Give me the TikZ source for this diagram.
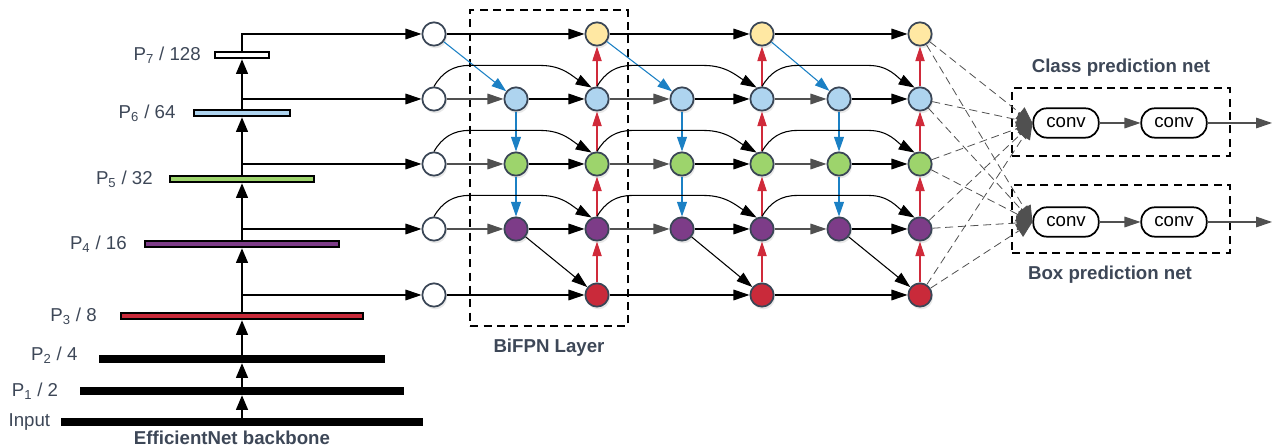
\documentclass[tikz,border=0pt]{standalone}
\usepackage{fontspec}
\setmainfont{Liberation Sans}
\usepackage{tikz}
\usetikzlibrary{arrows.meta, positioning, shadows}

\definecolor{labelgray}{HTML}{3D4757}
\definecolor{nodeborder}{HTML}{3A4656}
\definecolor{p7yellow}{HTML}{FFE8A3}
\definecolor{p6blue}{HTML}{AED4EF}
\definecolor{p5green}{HTML}{9DD46C}
\definecolor{p4purple}{HTML}{7D3C88}
\definecolor{p3red}{HTML}{C92A3A}
\definecolor{tdblue}{HTML}{1B80C4}
\definecolor{upred}{HTML}{D02A3A}
\definecolor{edgegray}{HTML}{505050}

\tikzstyle{plabel} = [text=labelgray, font=\fontsize{14}{16}\selectfont, inner sep=0pt]
\tikzstyle{title} = [text=labelgray, font=\fontsize{14}{16}\selectfont\bfseries, inner sep=0pt]
\tikzstyle{fmap} = [rectangle, draw=black, line width=1.5pt, minimum height=5pt, inner sep=0pt]
\tikzstyle{solidmap} = [rectangle, fill=black, minimum height=6pt, inner sep=0pt]
\tikzstyle{fnode} = [circle, draw=nodeborder, line width=1.3pt, minimum size=17.5pt, inner sep=0pt, fill=white, drop shadow={opacity=0.18, shadow xshift=1pt, shadow yshift=-2pt}]
\tikzstyle{conv} = [rectangle, rounded corners=10pt, draw=black, line width=1.3pt, minimum width=49pt, minimum height=22pt, font=\fontsize{14}{16}\selectfont]
\tikzstyle{dashbox} = [rectangle, draw=black, line width=1.4pt, dash pattern=on 6pt off 4pt]
\tikzstyle{arrow} = [->, >={Triangle[length=12pt,width=8pt]}, line width=0.8pt]
\tikzstyle{uparrow} = [->, >={Triangle[length=11pt,width=9pt]}, line width=1pt]
\tikzstyle{grayarrow} = [arrow, draw=edgegray]
\tikzstyle{bluearrow} = [->, >={Triangle[length=11pt,width=7.5pt]}, line width=0.8pt, draw=tdblue]
\tikzstyle{redarrow} = [->, >={Triangle[length=11pt,width=7pt]}, line width=0.8pt, draw=upred]
\tikzstyle{predline} = [->, >={Triangle[length=12pt,width=11pt]}, line width=0.6pt, draw=edgegray, dash pattern=on 6pt off 3.5pt]

\begin{document}
\begin{tikzpicture}[x=0.75pt, y=0.75pt]
        \useasboundingbox (0,0) rectangle (1277,448);

        % Backbone feature maps
        \node (p7_bar) [fmap, fill=white, minimum width=40pt] at (242,393) {};
        \node (p6_bar) [fmap, fill=p6blue, minimum width=72pt] at (242,335) {};
        \node (p5_bar) [fmap, fill=p5green, minimum width=108pt] at (242,269) {};
        \node (p4_bar) [fmap, fill=p4purple, minimum width=145pt] at (242,204) {};
        \node (p3_bar) [fmap, fill=p3red, minimum width=182pt] at (242,132) {};
        \node (p2_bar) [solidmap, minimum width=214pt] at (242,89) {};
        \node (p1_bar) [solidmap, minimum width=243pt] at (242,57) {};
        \node (in_bar) [solidmap, minimum width=271pt] at (242,26) {};

        \node (p7_label) [plabel, left=10pt of p7_bar] {P\textsubscript{7} / 128};
        \node (p6_label) [plabel, left=13pt of p6_bar] {P\textsubscript{6} / 64};
        \node (p5_label) [plabel, left=12pt of p5_bar] {P\textsubscript{5} / 32};
        \node (p4_label) [plabel, left=13pt of p4_bar] {P\textsubscript{4} / 16};
        \node (p3_label) [plabel, left=17pt of p3_bar] {P\textsubscript{3} / 8};
        \node (p2_label) [plabel, left=16pt of p2_bar, yshift=3pt] {P\textsubscript{2} / 4};
        \node (p1_label) [plabel, left=16pt of p1_bar] {P\textsubscript{1} / 2};
        \node (in_label) [plabel, left=8pt of in_bar] {Input};
        \node (backbone_title) [title] at (232,10) {EfficientNet backbone};

        % Backbone connections
        \draw [uparrow] (in_bar.north) -- (p1_bar.south);
        \draw [uparrow] (p1_bar.north) -- (p2_bar.south);
        \draw [uparrow] (p2_bar.north) -- (p3_bar.south);
        \draw [uparrow] (p3_bar.north) -- (p4_bar.south);
        \draw [uparrow] (p4_bar.north) -- (p5_bar.south);
        \draw [uparrow] (p5_bar.north) -- (p6_bar.south);
        \draw [uparrow] (p6_bar.north) -- (p7_bar.south);

        % BiFPN layer frame
        \node (bifpn_box) [dashbox, minimum width=118pt, minimum height=237pt] at (549,280) {};
        \node (bifpn_title) [title] at (549,100) {BiFPN Layer};

        % Input nodes
        \node (in_p7) [fnode] at (434,414) {};
        \node (in_p6) [fnode] at (434,349) {};
        \node (in_p5) [fnode] at (434,284) {};
        \node (in_p4) [fnode] at (434,219) {};
        \node (in_p3) [fnode] at (434,153) {};

        \draw [arrow] (p7_bar.north) |- (in_p7);
        \draw [arrow] (p6_bar.north |- in_p6) -- (in_p6);
        \draw [arrow] (p5_bar.north |- in_p5) -- (in_p5);
        \draw [arrow] (p4_bar.north |- in_p4) -- (in_p4);
        \draw [arrow] (p3_bar.north |- in_p3) -- (in_p3);

        % Layer 1 nodes
        \node (td1_p6) [fnode, fill=p6blue] at (516,349) {};
        \node (td1_p5) [fnode, fill=p5green] at (516,284) {};
        \node (td1_p4) [fnode, fill=p4purple] at (516,219) {};
        \node (out1_p7) [fnode, fill=p7yellow] at (597,414) {};
        \node (out1_p6) [fnode, fill=p6blue] at (597,349) {};
        \node (out1_p5) [fnode, fill=p5green] at (597,284) {};
        \node (out1_p4) [fnode, fill=p4purple] at (597,219) {};
        \node (out1_p3) [fnode, fill=p3red] at (597,153) {};

        % Layer 2 nodes
        \node (td2_p6) [fnode, fill=p6blue] at (682,349) {};
        \node (td2_p5) [fnode, fill=p5green] at (682,284) {};
        \node (td2_p4) [fnode, fill=p4purple] at (682,219) {};
        \node (out2_p7) [fnode, fill=p7yellow] at (762,414) {};
        \node (out2_p6) [fnode, fill=p6blue] at (762,349) {};
        \node (out2_p5) [fnode, fill=p5green] at (762,284) {};
        \node (out2_p4) [fnode, fill=p4purple] at (762,219) {};
        \node (out2_p3) [fnode, fill=p3red] at (762,153) {};

        % Layer 3 nodes
        \node (td3_p6) [fnode, fill=p6blue] at (839,349) {};
        \node (td3_p5) [fnode, fill=p5green] at (839,284) {};
        \node (td3_p4) [fnode, fill=p4purple] at (839,219) {};
        \node (out3_p7) [fnode, fill=p7yellow] at (920,414) {};
        \node (out3_p6) [fnode, fill=p6blue] at (920,349) {};
        \node (out3_p5) [fnode, fill=p5green] at (920,284) {};
        \node (out3_p4) [fnode, fill=p4purple] at (920,219) {};
        \node (out3_p3) [fnode, fill=p3red] at (920,153) {};

        % Layer 1 connections
        \draw [arrow] (in_p7) -- (out1_p7);
        \draw [bluearrow] (in_p7) -- (td1_p6);
        \draw [grayarrow] (in_p6) -- (td1_p6);
        \draw [grayarrow] (in_p5) -- (td1_p5);
        \draw [grayarrow] (in_p4) -- (td1_p4);
        \draw [bluearrow] (td1_p6) -- (td1_p5);
        \draw [bluearrow] (td1_p5) -- (td1_p4);
        \draw [arrow] (td1_p6) -- (out1_p6);
        \draw [arrow] (td1_p5) -- (out1_p5);
        \draw [arrow] (td1_p4) -- (out1_p4);
        \draw [arrow] (td1_p4) -- (out1_p3);
        \draw [arrow] (in_p3) -- (out1_p3);
        \draw [redarrow] (out1_p3) -- (out1_p4);
        \draw [redarrow] (out1_p4) -- (out1_p5);
        \draw [redarrow] (out1_p5) -- (out1_p6);
        \draw [redarrow] (out1_p6) -- (out1_p7);
        \draw [arrow] (in_p6.north) to[out=60,in=180] ++(35,21) -- ++(72,0) to[out=0,in=150] (out1_p6.115);
        \draw [arrow] (in_p5.north) to[out=60,in=180] ++(35,21) -- ++(72,0) to[out=0,in=150] (out1_p5.115);
        \draw [arrow] (in_p4.north) to[out=60,in=180] ++(35,21) -- ++(72,0) to[out=0,in=150] (out1_p4.115);

        % Layer 2 connections
        \draw [arrow] (out1_p7) -- (out2_p7);
        \draw [bluearrow] (out1_p7) -- (td2_p6);
        \draw [grayarrow] (out1_p6) -- (td2_p6);
        \draw [grayarrow] (out1_p5) -- (td2_p5);
        \draw [grayarrow] (out1_p4) -- (td2_p4);
        \draw [bluearrow] (td2_p6) -- (td2_p5);
        \draw [bluearrow] (td2_p5) -- (td2_p4);
        \draw [arrow] (td2_p6) -- (out2_p6);
        \draw [arrow] (td2_p5) -- (out2_p5);
        \draw [arrow] (td2_p4) -- (out2_p4);
        \draw [arrow] (td2_p4) -- (out2_p3);
        \draw [arrow] (out1_p3) -- (out2_p3);
        \draw [redarrow] (out2_p3) -- (out2_p4);
        \draw [redarrow] (out2_p4) -- (out2_p5);
        \draw [redarrow] (out2_p5) -- (out2_p6);
        \draw [redarrow] (out2_p6) -- (out2_p7);
        \draw [arrow] (out1_p6.north) to[out=60,in=180] ++(35,21) -- ++(72,0) to[out=0,in=150] (out2_p6.115);
        \draw [arrow] (out1_p5.north) to[out=60,in=180] ++(35,21) -- ++(72,0) to[out=0,in=150] (out2_p5.115);
        \draw [arrow] (out1_p4.north) to[out=60,in=180] ++(35,21) -- ++(72,0) to[out=0,in=150] (out2_p4.115);

        % Layer 3 connections
        \draw [arrow] (out2_p7) -- (out3_p7);
        \draw [bluearrow] (out2_p7) -- (td3_p6);
        \draw [grayarrow] (out2_p6) -- (td3_p6);
        \draw [grayarrow] (out2_p5) -- (td3_p5);
        \draw [grayarrow] (out2_p4) -- (td3_p4);
        \draw [bluearrow] (td3_p6) -- (td3_p5);
        \draw [bluearrow] (td3_p5) -- (td3_p4);
        \draw [arrow] (td3_p6) -- (out3_p6);
        \draw [arrow] (td3_p5) -- (out3_p5);
        \draw [arrow] (td3_p4) -- (out3_p4);
        \draw [arrow] (td3_p4) -- (out3_p3);
        \draw [arrow] (out2_p3) -- (out3_p3);
        \draw [redarrow] (out3_p3) -- (out3_p4);
        \draw [redarrow] (out3_p4) -- (out3_p5);
        \draw [redarrow] (out3_p5) -- (out3_p6);
        \draw [redarrow] (out3_p6) -- (out3_p7);
        \draw [arrow] (out2_p6.north) to[out=60,in=180] ++(35,21) -- ++(72,0) to[out=0,in=150] (out3_p6.115);
        \draw [arrow] (out2_p5.north) to[out=60,in=180] ++(35,21) -- ++(72,0) to[out=0,in=150] (out3_p5.115);
        \draw [arrow] (out2_p4.north) to[out=60,in=180] ++(35,21) -- ++(72,0) to[out=0,in=150] (out3_p4.115);

        % Prediction nets
        \node (cls_box) [dashbox, minimum width=163pt, minimum height=51pt] at (1121,326) {};
        \node (box_box) [dashbox, minimum width=163pt, minimum height=51pt] at (1121,229) {};
        \node (class_title) [title] at (1121,380) {Class prediction net};
        \node (box_title) [title] at (1110,173) {Box prediction net};
        \node (cls_conv1) [conv] at (1066,325) {conv};
        \node (cls_conv2) [conv] at (1174,325) {conv};
        \node (box_conv1) [conv] at (1066,226) {conv};
        \node (box_conv2) [conv] at (1174,226) {conv};
        \coordinate (cls_out) at (1272,325);
        \coordinate (box_out) at (1272,226);

        \draw [grayarrow] (cls_conv1) -- (cls_conv2);
        \draw [grayarrow] (cls_conv2) -- (cls_out);
        \draw [grayarrow] (box_conv1) -- (box_conv2);
        \draw [grayarrow] (box_conv2) -- (box_out);

        % Outputs to prediction nets
        \draw [predline] (out3_p7) -- (cls_conv1.west);
        \draw [predline] (out3_p6) -- (cls_conv1.west);
        \draw [predline] (out3_p5) -- (cls_conv1.west);
        \draw [predline] (out3_p4) -- (cls_conv1.west);
        \draw [predline] (out3_p3) -- (cls_conv1.west);
        \draw [predline] (out3_p7) -- (box_conv1.west);
        \draw [predline] (out3_p6) -- (box_conv1.west);
        \draw [predline] (out3_p5) -- (box_conv1.west);
        \draw [predline] (out3_p4) -- (box_conv1.west);
        \draw [predline] (out3_p3) -- (box_conv1.west);
    \end{tikzpicture}
\end{document}
